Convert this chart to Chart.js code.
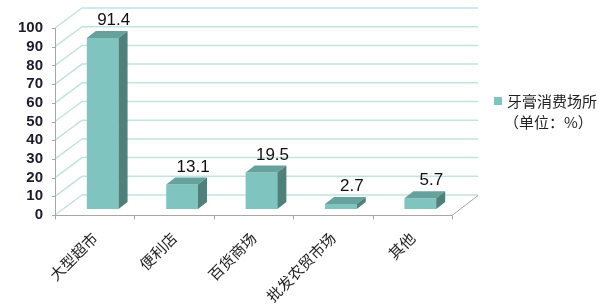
<!DOCTYPE html>
<html>
<head>
<meta charset="utf-8">
<script src="https://cdn.jsdelivr.net/npm/chart.js@4"></script>
<style>
html,body{margin:0;padding:0;background:#fff;}
#wrap{width:600px;height:305px;position:relative;}
</style>
</head>
<body>
<div id="wrap"><canvas id="c" width="600" height="305"></canvas></div>
<script>
// ---- data ----
const categories = ['大型超市', '便利店', '百货商场', '批发农贸市场', '其他'];
const shares = [91.4, 13.1, 19.5, 2.7, 5.7];
const seriesName = ['牙膏消费场所', '（单位：%）'];
const yMin = 0, yMax = 100, yStep = 10;

// ---- style ----
const FRONT = '#80c4c0', TOP = '#65a29c', SIDE = '#4f807a';
const GRID = '#c2e3e0', AXIS = '#a6a6a6';
const WALL_DX = 27, WALL_DY = -20;   // depth of the 3D floor/back wall
const BAR_SHIFT_X = 8, BAR_SHIFT_Y = -6; // bars sit partway into the depth
const BAR_DX = 9, BAR_DY = -7;       // bar depth

const threeD = {
  id: 'threeD',
  beforeDatasetsDraw(chart) {
    const ctx = chart.ctx, a = chart.chartArea;
    const y = chart.scales.y;
    ctx.save();
    // back wall gridlines
    ctx.strokeStyle = GRID; ctx.lineWidth = 1.5;
    for (let v = yMin; v <= yMax; v += yStep) {
      const py = y.getPixelForValue(v);
      ctx.beginPath();
      ctx.moveTo(a.left, py);
      ctx.lineTo(a.left + WALL_DX, py + WALL_DY);
      ctx.lineTo(a.right + WALL_DX - 1, py + WALL_DY);
      ctx.stroke();
    }
    // axes (front)
    ctx.strokeStyle = AXIS; ctx.lineWidth = 1;
    const y0 = y.getPixelForValue(yMin), yT = y.getPixelForValue(yMax);
    ctx.beginPath();
    ctx.moveTo(a.left + 0.5, yT); ctx.lineTo(a.left + 0.5, y0);
    for (let v = yMin; v <= yMax; v += yStep) {
      const py = Math.round(y.getPixelForValue(v)) + 0.5;
      ctx.moveTo(a.left - 3, py); ctx.lineTo(a.left + 0.5, py);
    }
    const yb = Math.round(y0) + 0.5;
    ctx.moveTo(a.left, yb); ctx.lineTo(a.right, yb);
    const n = categories.length;
    for (let i = 0; i <= n; i++) {
      const px = Math.round(a.left + (a.right - a.left) * i / n) + 0.5;
      ctx.moveTo(px, yb); ctx.lineTo(px, yb + 4);
    }
    ctx.moveTo(a.right, yb); ctx.lineTo(a.right + WALL_DX - 1, yb + WALL_DY);
    ctx.stroke();
    ctx.restore();

    // shift bars into the depth
    ctx.save();
    ctx.translate(BAR_SHIFT_X, BAR_SHIFT_Y);
  },
  afterDatasetsDraw(chart) {
    const ctx = chart.ctx;
    const meta = chart.getDatasetMeta(0);
    meta.data.forEach((bar, i) => {
      const p = bar.getProps(['x', 'y', 'base', 'width'], true);
      const l = p.x - p.width / 2, r = p.x + p.width / 2;
      // top face
      ctx.fillStyle = TOP;
      ctx.beginPath();
      ctx.moveTo(l, p.y); ctx.lineTo(r, p.y);
      ctx.lineTo(r + BAR_DX, p.y + BAR_DY); ctx.lineTo(l + BAR_DX, p.y + BAR_DY);
      ctx.closePath(); ctx.fill();
      // side face
      ctx.fillStyle = SIDE;
      ctx.beginPath();
      ctx.moveTo(r, p.y); ctx.lineTo(r, p.base);
      ctx.lineTo(r + BAR_DX, p.base + BAR_DY); ctx.lineTo(r + BAR_DX, p.y + BAR_DY);
      ctx.closePath(); ctx.fill();
      // value label
      ctx.fillStyle = '#111';
      ctx.font = '17px "Liberation Sans", Arial, sans-serif';
      ctx.textAlign = 'center'; ctx.textBaseline = 'alphabetic';
      ctx.fillText(String(shares[i]), p.x + BAR_DX + 2, p.y + BAR_DY - 6);
    });
    ctx.restore();
  },
  afterDraw(chart) {
    const ctx = chart.ctx;
    ctx.save();
    ctx.fillStyle = FRONT;
    ctx.fillRect(494, 97, 8, 8);
    ctx.fillStyle = '#222';
    ctx.font = '15px "Noto Sans CJK SC", sans-serif';
    ctx.textAlign = 'left'; ctx.textBaseline = 'middle';
    ctx.fillText(seriesName[0], 507, 101);
    ctx.fillText(seriesName[1], 504, 122);
    ctx.restore();
  }
};

new Chart(document.getElementById('c'), {
  type: 'bar',
  data: {
    labels: categories,
    datasets: [{
      label: seriesName.join(''),
      data: shares,
      backgroundColor: FRONT,
      borderWidth: 0,
      barPercentage: 0.4,
      categoryPercentage: 1.0
    }]
  },
  plugins: [threeD],
  options: {
    responsive: false,
    animation: false,
    devicePixelRatio: 1,
    layout: { padding: { top: 28, right: 148, left: 0, bottom: 0 } },
    plugins: { legend: { display: false }, tooltip: { enabled: false } },
    scales: {
      x: {
        offset: true,
        grid: { display: false, drawTicks: false },
        border: { display: false },
        ticks: {
          maxRotation: 45, minRotation: 45, autoSkip: false, padding: 14,
          color: '#222', font: { family: '"Noto Sans CJK SC", sans-serif', size: 15 }
        },
        afterFit(s) { s.height = 90; }
      },
      y: {
        min: yMin, max: yMax,
        grid: { display: false, drawTicks: false },
        border: { display: false },
        ticks: {
          stepSize: yStep, autoSkip: false, padding: 12, color: '#1b1b2b',
          font: { family: '"Liberation Sans", Arial, sans-serif', size: 15, weight: 'bold' }
        },
        afterFit(s) { s.width = 55; }
      }
    }
  }
});
</script>
</body>
</html>
